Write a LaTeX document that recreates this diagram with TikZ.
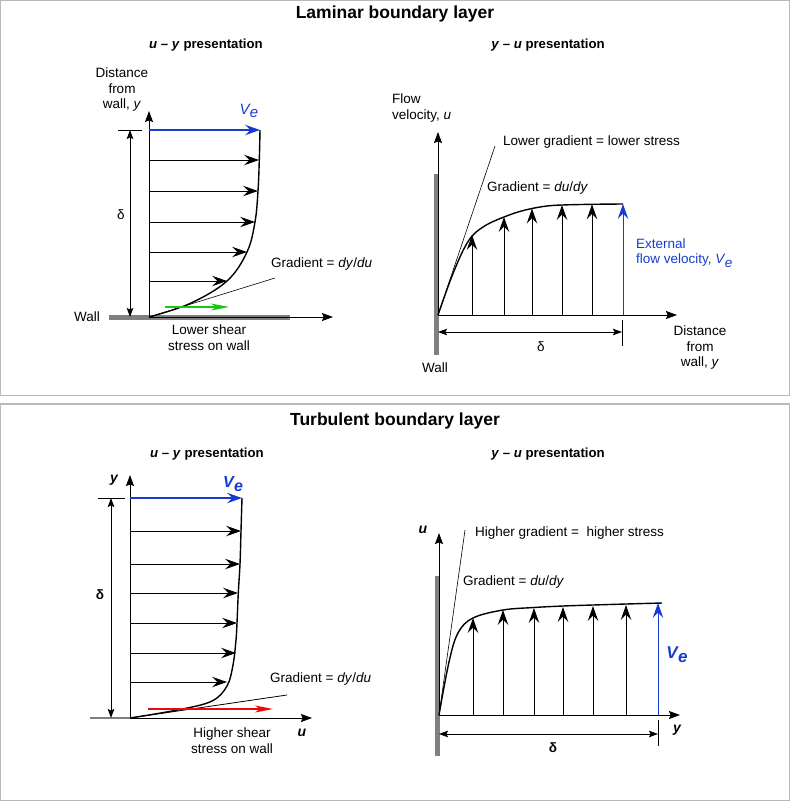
\documentclass[tikz,border=0pt]{standalone}
\usepackage{fontspec}
\setmainfont{Liberation Sans}
\usetikzlibrary{arrows.meta}

\definecolor{velblue}{RGB}{20,60,210}
\definecolor{sheargreen}{RGB}{20,200,20}
\definecolor{shearred}{RGB}{235,10,10}
\definecolor{wallgray}{RGB}{128,128,128}
\definecolor{framegray}{RGB}{185,185,185}

\newcommand{\velsub}{\textit{V\kern0.3pt\raisebox{-0.45ex}{e}}}

\tikzset{
	txt/.style={font=\fontsize{13.5}{15.5}\selectfont, inner sep=0pt, align=center},
	headtxt/.style={font=\fontsize{17.5}{19}\selectfont\bfseries, inner sep=0pt},
	subtxt/.style={font=\fontsize{13.2}{15}\selectfont\bfseries, inner sep=0pt},
	axisline/.style={-{Stealth[length=11pt,width=8pt,inset=1.5pt]}, line width=0.8pt},
	velarrow/.style={-{Stealth[length=15pt,width=10.5pt,inset=5.5pt]}, line width=0.9pt},
	dimline/.style={{Stealth[length=9pt,width=6.5pt,inset=1.5pt]}-{Stealth[length=9pt,width=6.5pt,inset=1.5pt]}, line width=0.8pt},
	shear/.style={-{Stealth[length=18pt,width=7pt,inset=5pt]}, line width=1.6pt},
	wallbar/.style={wallgray, line width=5pt},
	profile/.style={line width=1.4pt, smooth, tension=0.6},
}

\begin{document}
\begin{tikzpicture}[x=1pt, y=-1pt, line cap=butt]
	\useasboundingbox (0,0) rectangle (790,801);
	\draw[framegray, line width=1.2pt] (0.6,0.6) rectangle (789.4,395.5);
	\draw[framegray, line width=1.2pt] (0.6,404) rectangle (789.4,800.4);

	% laminar
	\node[headtxt] (lamhead) at (395,14) {Laminar boundary layer};
	\node[subtxt] (lamuy) at (206,45) {\textit{u} -- \textit{y} presentation};
	\node[subtxt] (lamyu) at (548,45) {\textit{y} -- \textit{u} presentation};

	% u-y, laminar
	\coordinate (lo) at (149,317);
	\coordinate (lotop) at (149,111);
	\coordinate (loright) at (333,317);
	\draw[wallbar] (109,317.5) -- (290,317.5);
	\draw[axisline] (lo) -- (lotop);
	\draw[axisline] (lo) -- (loright);
	\foreach \yy/\xx in {160/259,191/258,222/255,252/247,281/227}
		\draw[velarrow] (149,\yy) -- (\xx,\yy);
	\coordinate (loedge) at (149,130);
	\coordinate (loedgetip) at (260,130);
	\draw[velarrow, velblue, line width=1.4pt] (loedge) -- (loedgetip);
	\draw[profile] plot coordinates {(149,317) (190,303.5) (227,281) (247,252) (255,222) (258,191) (259.3,160) (260,130)};
	\coordinate (lotan) at (275,278);
	\draw[line width=0.6pt] (lo) -- (lotan);
	\coordinate (lodtop) at (130,130);
	\coordinate (lodbot) at (130,317);
	\draw (118,130) -- (142,130);
	\draw[dimline] (lodtop) -- (lodbot);
	\draw[shear, sheargreen] (165,307) -- (229,307);
	\node[txt] (lodelta) at (121,215) {δ};
	\node[txt] (loyaxis) at (122,90) {Distance\\from\\wall, \textit{y}};
	\node[txt, velblue, font=\fontsize{15}{16}\selectfont] (love) at (249,111) {\velsub};
	\node[txt, anchor=west] (lograd) at (271,264) {Gradient = \textit{dy}/\textit{du}};
	\node[txt] (lowall) at (87,317) {Wall};
	\node[txt] (loshear) at (209,337.5) {Lower shear\\stress on wall};

	% y-u, laminar
	\coordinate (ro) at (438,315);
	\coordinate (rotop) at (438,132);
	\coordinate (roright) at (677,315);
	\draw[wallbar] (436,174) -- (436,355);
	\draw[axisline] (ro) -- (rotop);
	\draw[axisline] (ro) -- (roright);
	\foreach \xx/\yy in {472/235,504/217,532/208.5,562/205,592/204.3}
		\draw[velarrow] (\xx,315) -- (\xx,\yy);
	\draw[velarrow, velblue] (623,315) -- (623,204);
	\draw[profile] plot coordinates {(438,315) (445,295) (452,276) (460,257) (466,245) (472,236) (480,229) (490,223) (504,217) (518,212) (532,208.5) (547,206) (562,205) (592,204.3) (623,204)};
	\coordinate (rotan) at (495,146);
	\draw[line width=0.6pt] (ro) -- (rotan);
	\coordinate (rodend) at (622,332);
	\draw (622,320) -- (622,346);
	\draw[dimline] (438,332) -- (rodend);
	\node[txt] (rodelta) at (541,347) {δ};
	\node[txt, anchor=west, align=left] (royaxis) at (392,108) {Flow\\velocity, \textit{u}};
	\node[txt, anchor=west] (rolow) at (503,142) {Lower gradient = lower stress};
	\node[txt, anchor=west] (rograd) at (487,188) {Gradient = \textit{du}/\textit{dy}};
	\node[txt, anchor=west, align=left, velblue] (roext) at (636,253) {External\\flow velocity, \velsub};
	\node[txt] (roxaxis) at (700,348) {Distance\\from\\wall, \textit{y}};
	\node[txt] (rowall) at (435,368) {Wall};

	% turbulent
	\node[headtxt] (turbhead) at (395,421) {Turbulent boundary layer};
	\node[subtxt] (turbuy) at (207,454) {\textit{u} -- \textit{y} presentation};
	\node[subtxt] (turbyu) at (548,454) {\textit{y} -- \textit{u} presentation};

	% u-y, turbulent
	\coordinate (to) at (130,718);
	\coordinate (totop) at (130,475);
	\coordinate (toright) at (312,718);
	\draw[wallgray, line width=1.5pt] (90,718) -- (to);
	\draw[axisline] (to) -- (totop);
	\draw[axisline] (to) -- (toright);
	\foreach \yy/\xx in {531/241,564/240,593/238,623/237,653/236,682/227}
		\draw[velarrow] (130,\yy) -- (\xx,\yy);
	\coordinate (toedge) at (130,498);
	\coordinate (toedgetip) at (242,498);
	\draw[velarrow, velblue, line width=1.4pt] (toedge) -- (toedgetip);
	\draw[profile] plot coordinates {(130,718) (180,709.5) (212,701) (227,686) (233,665) (236,640) (237,623) (238.3,593) (240,564) (241,531) (242,498)};
	\coordinate (totan) at (287,695);
	\draw[line width=0.8pt] (to) -- (totan);
	\draw (98,498) -- (125,498);
	\draw[dimline] (111,498) -- (111,718);
	\draw[shear, shearred] (148,709) -- (273,709);
	\node[txt, font=\fontsize{13.5}{15}\selectfont\bfseries] (todelta) at (100,595) {δ};
	\node[txt, font=\fontsize{14}{15}\selectfont\bfseries\itshape] (toyaxis) at (114,480) {y};
	\node[txt, font=\fontsize{14}{15}\selectfont\bfseries\itshape] (touaxis) at (302,733) {u};
	\node[txt, velblue, font=\fontsize{16}{17}\selectfont\bfseries] (tove) at (233,484) {\velsub};
	\node[txt, anchor=west] (tograd) at (270,679) {Gradient = \textit{dy}/\textit{du}};
	\node[txt] (toshear) at (232,740.5) {Higher shear\\stress on wall};

	% y-u, turbulent
	\coordinate (ko) at (439,715);
	\coordinate (kotop) at (439,533);
	\coordinate (koright) at (680,715);
	\draw[wallbar] (437,576) -- (437,756);
	\draw[axisline] (ko) -- (kotop);
	\draw[axisline] (ko) -- (koright);
	\foreach \xx/\yy in {473/618,503/610,534/608,563/607,593/606,626/605}
		\draw[velarrow] (\xx,715) -- (\xx,\yy);
	\draw[velarrow, velblue] (658,715) -- (658,603);
	\draw[profile] plot coordinates {(439,715) (449,662) (458,633) (473,618) (503,610) (534,607.5) (563,606) (593,605) (626,604) (662,603)};
	\coordinate (kotan) at (465,530);
	\draw[line width=0.6pt] (ko) -- (kotan);
	\draw (658,720) -- (658,746);
	\draw[dimline] (439,734) -- (658,734);
	\node[txt, font=\fontsize{13.5}{15}\selectfont\bfseries] (kodelta) at (553,748) {δ};
	\node[txt, font=\fontsize{14}{15}\selectfont\bfseries\itshape] (kouaxis) at (423,530) {u};
	\node[txt, font=\fontsize{14}{15}\selectfont\bfseries\itshape] (koyaxis) at (677,730) {y};
	\node[txt, anchor=west] (kohigh) at (475,533) {Higher gradient = \ higher stress};
	\node[txt, anchor=west] (kograd) at (463,582) {Gradient = \textit{du}/\textit{dy}};
	\node[txt, velblue, font=\fontsize{17}{18}\selectfont\bfseries] (kove) at (677,655) {\velsub};
\end{tikzpicture}
\end{document}
